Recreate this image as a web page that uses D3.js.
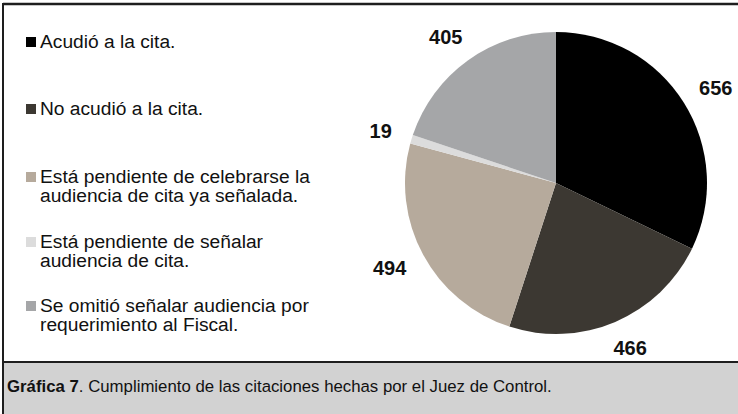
<!DOCTYPE html>
<html><head><meta charset="utf-8">
<script src="https://cdn.jsdelivr.net/npm/d3@7"></script>
<style>html,body{margin:0;padding:0;background:#fff;}svg{display:block;}</style>
</head><body>
<svg id="chart" width="738" height="414"></svg>
<script>
const categories = [
  ["Acudió a la cita."],
  ["No acudió a la cita."],
  ["Está pendiente de celebrarse la", "audiencia de cita ya señalada."],
  ["Está pendiente de señalar", "audiencia de cita."],
  ["Se omitió señalar audiencia por", "requerimiento al Fiscal."]
];
const values = [656, 466, 494, 19, 405];
const colors = ["#000000", "#3c3832", "#b6aa9c", "#dcdcdc", "#a5a6a8"];
const captionBold = "Gráfica 7";
const captionRest = ". Cumplimiento de las citaciones hechas por el Juez de Control.";

const svg = d3.select("#chart");
const font = "Arial, 'Liberation Sans', sans-serif";

// frame
svg.append("rect").attr("x", 3).attr("y", 363).attr("width", 735).attr("height", 51).attr("fill", "#d2d2d2");
svg.append("line").attr("x1", 3).attr("x2", 738).attr("y1", 4).attr("y2", 4).attr("stroke", "#1e1e1e").attr("stroke-width", 2.5);
svg.append("line").attr("x1", 3).attr("x2", 3).attr("y1", 3).attr("y2", 414).attr("stroke", "#1e1e1e").attr("stroke-width", 2);
svg.append("line").attr("x1", 3).attr("x2", 738).attr("y1", 362).attr("y2", 362).attr("stroke", "#1e1e1e").attr("stroke-width", 2);

// pie
const cx = 556, cy = 183, r = 151;
const pie = d3.pie().sort(null).value(d => d);
const arcs = pie(values);
const arc = d3.arc().innerRadius(0).outerRadius(r);
const labelArc = d3.arc().innerRadius(172).outerRadius(172);
const g = svg.append("g").attr("transform", `translate(${cx},${cy})`);
g.selectAll("path").data(arcs).join("path")
  .attr("d", arc).attr("fill", (d, i) => colors[i]);
g.selectAll("text").data(arcs).join("text")
  .attr("text-anchor", "middle").attr("dominant-baseline", "central")
  .attr("font-family", font).attr("font-weight", "bold").attr("font-size", 20)
  .attr("fill", "#111")
  .text(d => d.data)
  .attr("transform", function (d) {
    const b = this.getBBox();
    const [px, py] = labelArc.centroid(d);
    const a = (d.startAngle + d.endAngle) / 2;
    return `translate(${px + Math.sin(a) * b.width / 2},${py - Math.cos(a) * b.height / 3})`;
  });

// legend
const baselines = [48, 115, 183, 248, 312];
const lineH = 19;
const lg = svg.append("g");
categories.forEach((lines, i) => {
  lg.append("rect").attr("x", 26).attr("y", baselines[i] - 11).attr("width", 10).attr("height", 10).attr("fill", colors[i]);
  const t = lg.append("text").attr("x", 40).attr("y", baselines[i])
    .attr("font-family", font).attr("font-size", 19.2).attr("fill", "#111");
  lines.forEach((ln, j) => {
    t.append("tspan").attr("x", 40).attr("dy", j === 0 ? 0 : lineH).text(ln);
  });
});

// caption
const cap = svg.append("text").attr("x", 7).attr("y", 392)
  .attr("font-family", font).attr("font-size", 16.8).attr("fill", "#111");
cap.append("tspan").attr("font-weight", "bold").text(captionBold);
cap.append("tspan").text(captionRest);
</script>
</body></html>
